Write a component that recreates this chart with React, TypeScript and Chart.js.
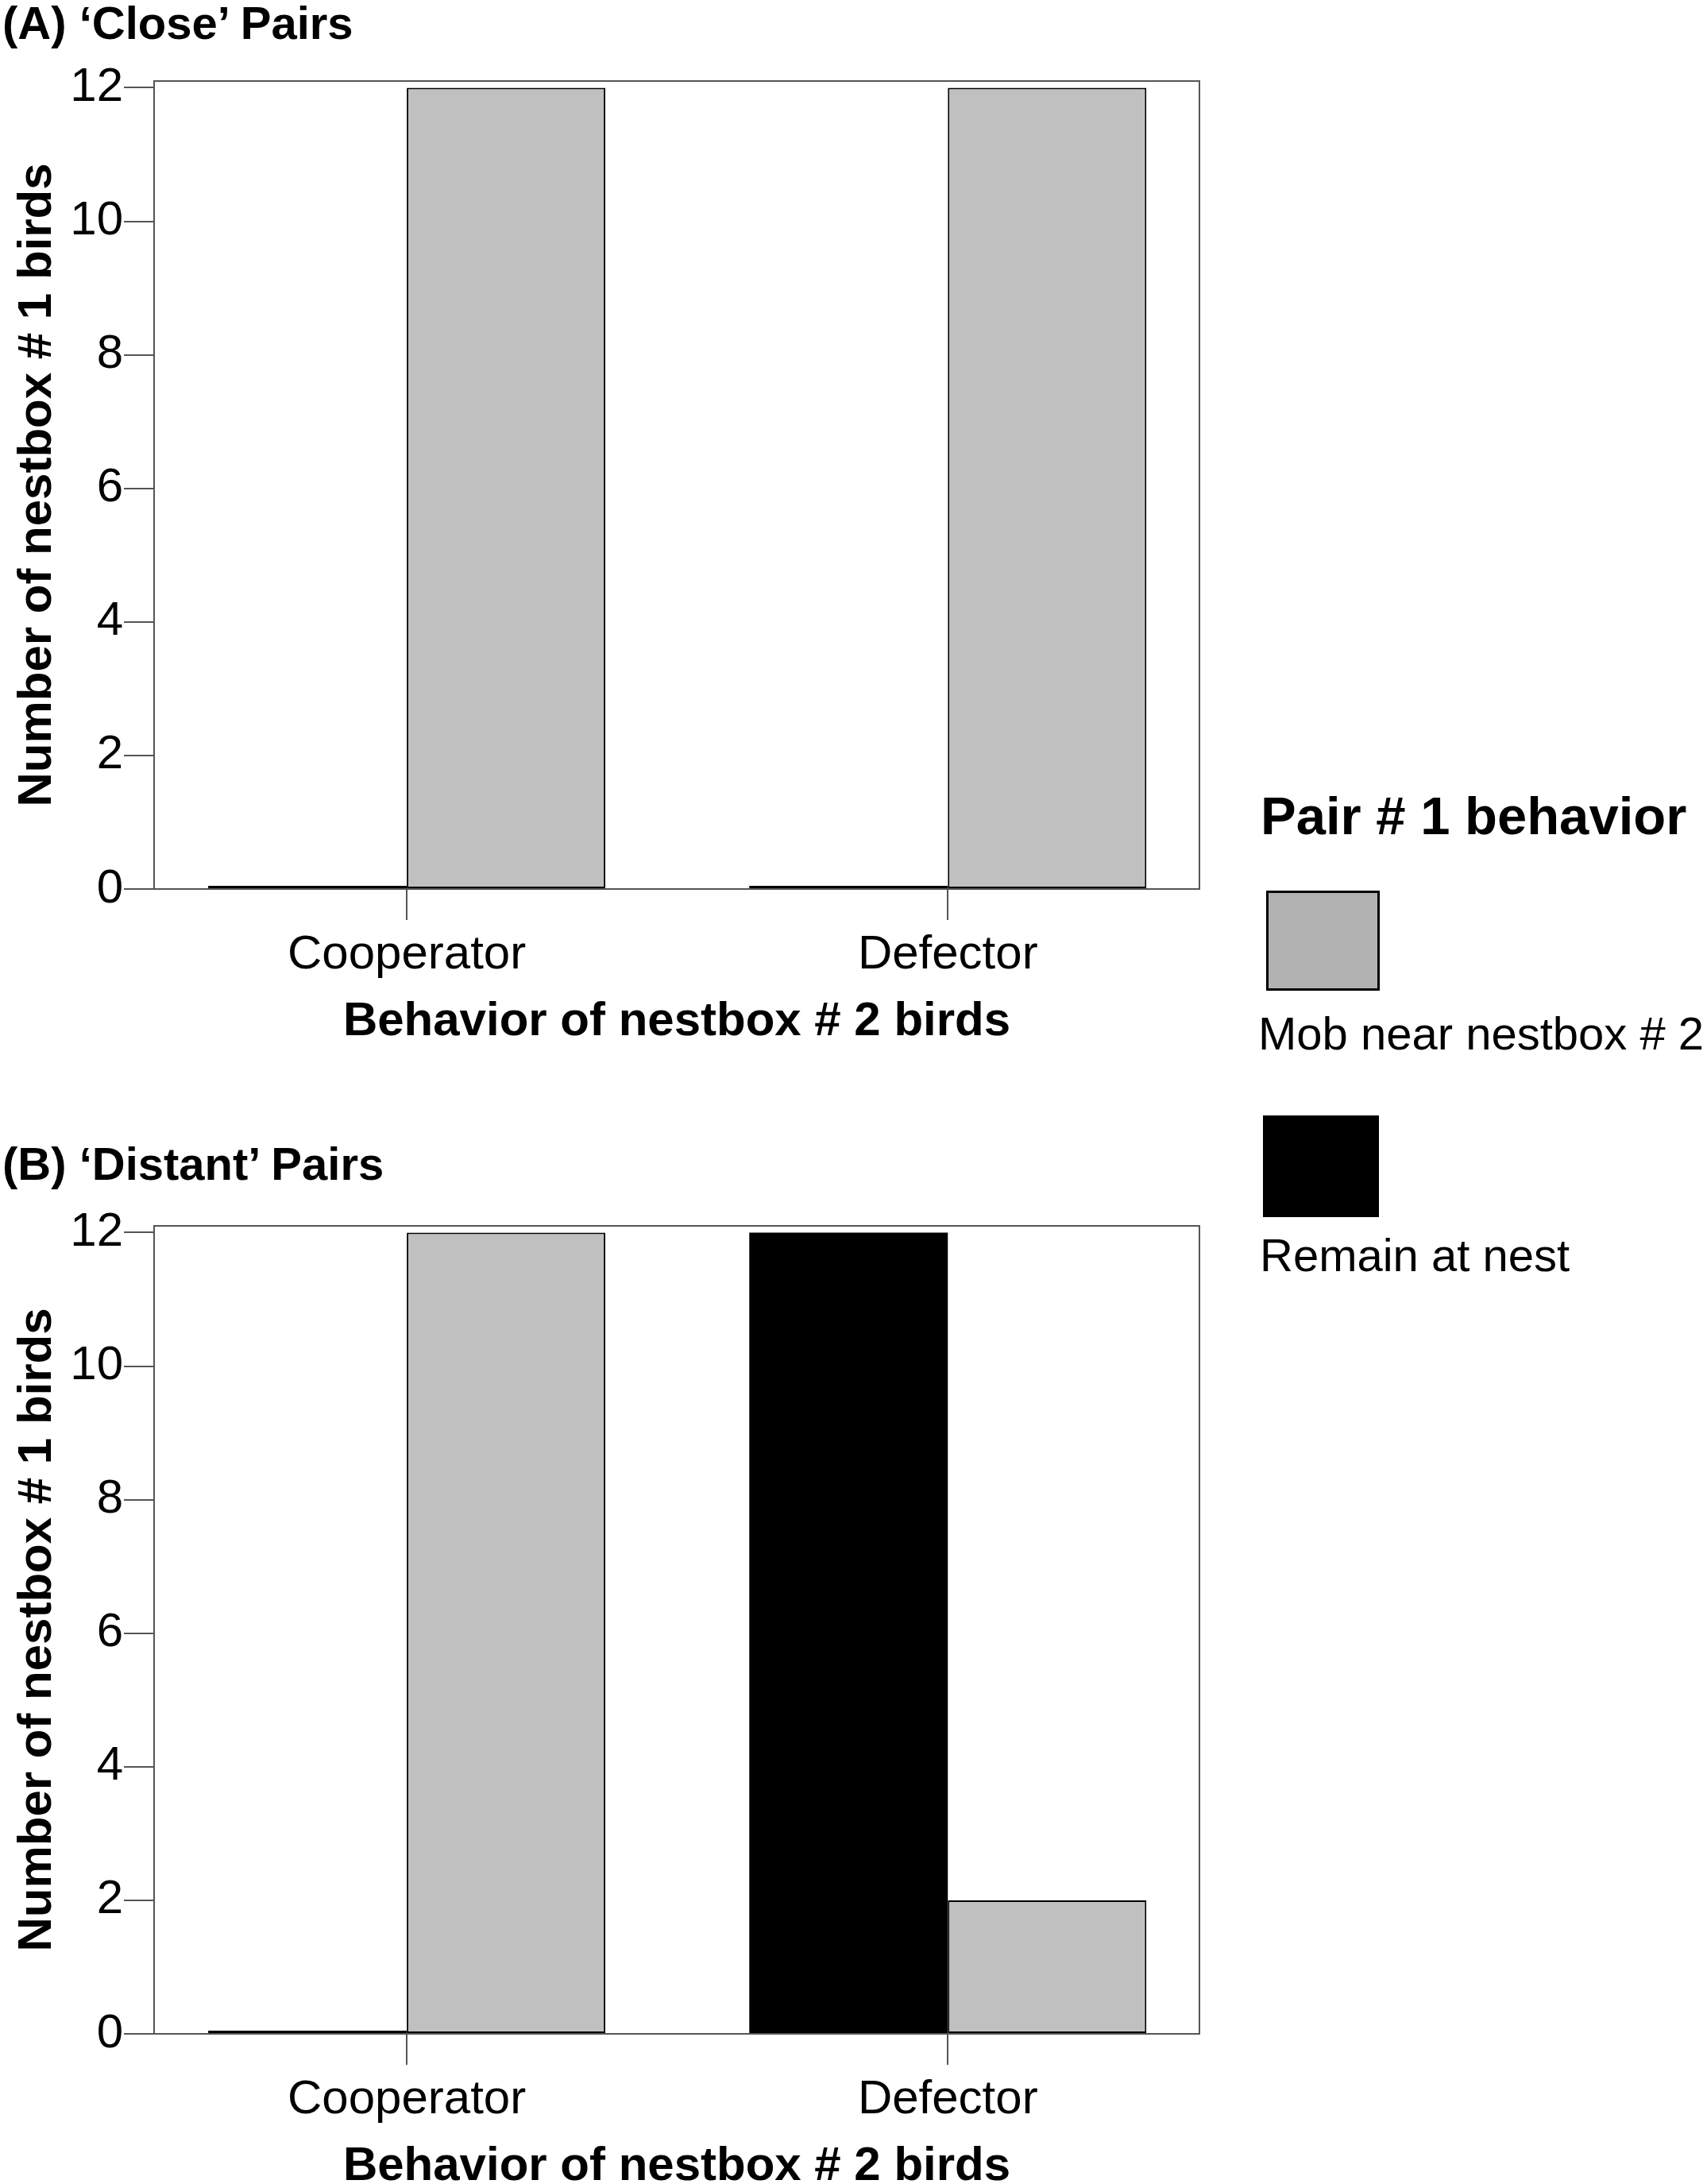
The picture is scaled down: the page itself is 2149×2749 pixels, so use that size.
import { useEffect, useRef } from "react";
import { Chart, ChartConfiguration, Plugin, registerables } from "chart.js";

Chart.register(...registerables);

// data
const categories = ["Cooperator", "Defector"];
const seriesNames = ["Remain at nest", "Mob near nestbox # 2"];
const closeRemain = [0, 0];
const closeMob = [12, 12];
const distantRemain = [0, 12];
const distantMob = [12, 2];
const yMax = 12.1;
const yStep = 2;

const FONT = '"Liberation Sans", Arial, Helvetica, sans-serif';
const PANEL_W = 1560;
const PANEL_H = 1441;
const AREA_LEFT = 194;
const AREA_RIGHT = 1510;
const AREA_TOP = 102;
const AREA_BOTTOM = 1119;

const MOB_GREY = "#c0c0c0";
const LINE_GREY = "#555";

const framePlugin: Plugin<"bar"> = {
  id: "frame",
  beforeDatasetsDraw(chart) {
    const { ctx, chartArea: a } = chart;
    ctx.save();
    ctx.strokeStyle = LINE_GREY;
    ctx.lineWidth = 2;
    ctx.strokeRect(a.left, a.top, a.right - a.left, a.bottom - a.top);
    ctx.restore();
  },
};

interface PanelProps {
  top: number;
  titleTop: number;
  title: string;
  remain: number[];
  mob: number[];
}

function Panel({ top, titleTop, title, remain, mob }: PanelProps) {
  const canvasRef = useRef<HTMLCanvasElement | null>(null);

  useEffect(() => {
    if (!canvasRef.current) return;
    const ctx = canvasRef.current.getContext("2d");
    if (!ctx) return;

    const tickFont = { family: FONT, size: 60 };
    const titleFont = { family: FONT, size: 60, weight: "bold" as const };

    const config: ChartConfiguration<"bar", { x: number; y: number }[]> = {
      type: "bar",
      data: {
        datasets: [
          {
            label: seriesNames[0],
            data: categories.map((_, i) => ({ x: i, y: remain[i] })),
            backgroundColor: "#000",
            borderWidth: 0,
            minBarLength: 4,
            categoryPercentage: 0.734,
            barPercentage: 1,
          },
          {
            label: seriesNames[1],
            data: categories.map((_, i) => ({ x: i, y: mob[i] })),
            backgroundColor: MOB_GREY,
            borderColor: "#000",
            borderWidth: 2,
            borderSkipped: false,
            categoryPercentage: 0.734,
            barPercentage: 1,
          },
        ],
      },
      options: {
        animation: false,
        responsive: false,
        devicePixelRatio: 1,
        layout: {
          padding: { left: 0, top: AREA_TOP, right: PANEL_W - AREA_RIGHT, bottom: 0 },
        },
        plugins: {
          legend: { display: false },
          tooltip: { enabled: false },
        },
        scales: {
          x: {
            type: "linear",
            min: -0.467,
            max: 1.465,
            offset: false,
            afterFit: (s) => {
              s.height = PANEL_H - AREA_BOTTOM;
            },
            border: { display: false },
            grid: {
              drawOnChartArea: false,
              drawTicks: true,
              tickLength: 39,
              color: LINE_GREY,
              lineWidth: 2,
              offset: false,
            },
            ticks: {
              stepSize: 1,
              includeBounds: false,
              autoSkip: false,
              maxRotation: 0,
              padding: 8,
              color: "#000",
              font: tickFont,
              callback: (v) => categories[Number(v)] ?? "",
            },
            title: {
              display: true,
              text: "Behavior of nestbox # 2 birds",
              color: "#000",
              font: titleFont,
              padding: { top: 0, bottom: 119 },
            },
          },
          y: {
            min: 0,
            max: yMax,
            afterFit: (s) => {
              s.width = AREA_LEFT;
            },
            border: { display: false },
            grid: {
              drawOnChartArea: false,
              tickLength: 38,
              color: LINE_GREY,
              lineWidth: 2,
            },
            ticks: {
              stepSize: yStep,
              includeBounds: false,
              padding: 1,
              color: "#000",
              font: tickFont,
            },
            title: {
              display: true,
              text: "Number of nestbox # 1 birds",
              color: "#000",
              font: titleFont,
              padding: { top: 11, bottom: 0 },
            },
          },
        },
      },
      plugins: [framePlugin],
    };

    const chart = new Chart(ctx, config);
    return () => {
      chart.destroy();
    };
  }, [remain, mob]);

  return (
    <div style={{ position: "absolute", left: 0, top, width: PANEL_W, height: PANEL_H }}>
      <canvas
        ref={canvasRef}
        width={PANEL_W}
        height={PANEL_H}
        style={{ position: "absolute", left: 0, top: 0, width: PANEL_W, height: PANEL_H }}
      />
      <div
        style={{
          position: "absolute",
          left: 3,
          top: titleTop,
          font: `bold 58px/1 ${FONT}`,
          whiteSpace: "nowrap",
          color: "#000",
        }}
      >
        {title}
      </div>
    </div>
  );
}

const textStyle = (left: number, top: number, size: number, bold = false) => ({
  position: "absolute" as const,
  left,
  top,
  font: `${bold ? "bold " : ""}${size}px/1 ${FONT}`,
  whiteSpace: "nowrap" as const,
  color: "#000",
});

export default function App() {
  return (
    <div
      style={{
        position: "absolute",
        left: 0,
        top: 0,
        width: 2149,
        height: 2749,
        overflow: "hidden",
        background: "#fff",
      }}
    >
      <Panel top={0} titleTop={0} title="(A) ‘Close’ Pairs" remain={closeRemain} mob={closeMob} />
      <Panel
        top={1441}
        titleTop={-5}
        title="(B) ‘Distant’ Pairs"
        remain={distantRemain}
        mob={distantMob}
      />

      <div style={textStyle(1587, 993, 67, true)}>Pair # 1 behavior</div>
      <div
        style={{
          position: "absolute",
          left: 1594,
          top: 1121,
          width: 143,
          height: 126,
          boxSizing: "border-box",
          border: "3px solid #000",
          background: "#b2b2b2",
        }}
      />
      <div style={textStyle(1584, 1272, 58)}>{seriesNames[1]}</div>
      <div
        style={{
          position: "absolute",
          left: 1590,
          top: 1404,
          width: 146,
          height: 128,
          background: "#000",
        }}
      />
      <div style={textStyle(1586, 1551, 58)}>{seriesNames[0]}</div>
    </div>
  );
}
